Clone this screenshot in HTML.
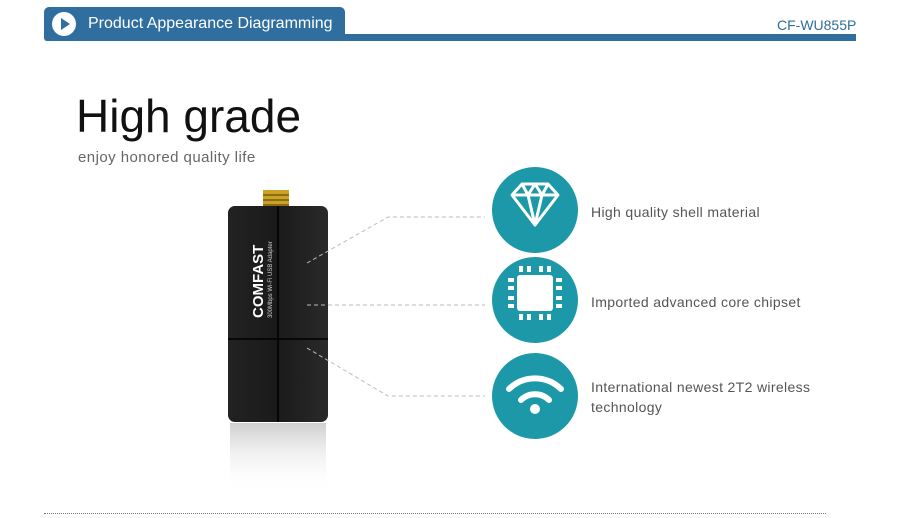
<!DOCTYPE html>
<html><head><meta charset="utf-8"><style>
*{margin:0;padding:0}
body{width:900px;height:518px;background:#fff;position:relative;overflow:hidden;font-family:"Liberation Sans",sans-serif}
.a{position:absolute}
.tab{left:44px;top:7px;width:301px;height:34px;background:#2f6e9e;border-radius:5px 5px 0 3px}
.bar{left:340px;top:34px;width:516px;height:7px;background:#2f6e9e}
.play{left:52px;top:12px;width:24px;height:24px;border-radius:50%;background:#fff}
.play:after{content:"";position:absolute;left:9px;top:6px;border-left:9px solid #2f6e9e;border-top:6px solid transparent;border-bottom:6px solid transparent}
.ttl{left:88px;top:15px;color:#fff;font-size:16px}
.cf{left:777px;top:17px;color:#2f6e9e;font-size:14px}
.hg{left:76px;top:89px;font-size:46px;color:#111}
.sub{left:78px;top:149px;font-size:15px;color:#666;letter-spacing:0.45px}
.c{width:86px;height:86px;border-radius:50%;background:#1d98a9;left:492px}
.t{left:591px;font-size:14px;color:#555;line-height:20px;letter-spacing:0.35px}
.dots{left:44px;top:513px;width:782px;border-top:1px dotted #777}
</style></head><body>
<div class="a tab"></div><div class="a bar"></div><div class="a play"></div>
<div class="a ttl">Product Appearance Diagramming</div>
<div class="a cf">CF-WU855P</div>
<div class="a hg">High grade</div>
<div class="a sub">enjoy honored quality life</div>
<svg class="a" style="left:0;top:0" width="900" height="518">
<defs><linearGradient id="r" x1="0" y1="0" x2="0" y2="1"><stop offset="0" stop-color="#bbb" stop-opacity=".7"/><stop offset="1" stop-color="#fff" stop-opacity="0"/></linearGradient>
<linearGradient id="b" x1="0" x2="1"><stop offset="0" stop-color="#222"/><stop offset=".5" stop-color="#1a1a1a"/><stop offset="1" stop-color="#2a2a2a"/></linearGradient></defs>
<rect x="263" y="190" width="26" height="20" fill="#c9a227"/>
<rect x="263" y="194" width="26" height="2" fill="#8a6e10"/><rect x="263" y="199" width="26" height="2" fill="#8a6e10"/><rect x="263" y="204" width="26" height="2" fill="#8a6e10"/>
<rect x="228" y="206" width="100" height="216" rx="7" fill="url(#b)"/>
<line x1="278" y1="206" x2="278" y2="422" stroke="#000" stroke-width="1.5"/>
<line x1="228" y1="339" x2="328" y2="339" stroke="#000" stroke-width="1.5"/>
<rect x="230" y="423" width="96" height="70" fill="url(#r)"/>
<text transform="translate(263,318) rotate(-90)" fill="#fff" font-size="15" font-weight="bold" font-family="Liberation Sans">COMFAST</text>
<text transform="translate(272,318) rotate(-90)" fill="#ccc" font-size="6" font-family="Liberation Sans">300Mbps Wi-Fi USB Adapter</text>
<g stroke="#bbb" stroke-dasharray="4,3" fill="none">
<polyline points="307,263 388,217 485,217"/>
<polyline points="307,305 485,305"/>
<polyline points="307,348 388,396 485,396"/>
</g>
</svg>
<div class="a c" style="top:167px"></div>
<div class="a c" style="top:257px"></div>
<div class="a c" style="top:353px"></div>
<svg class="a" style="left:492px;top:167px" width="86" height="280">
<g stroke="#fff" stroke-width="3" fill="none" stroke-linejoin="round">
<polygon points="20,28 30,17 56,17 66,28 43,58"/>
<path d="M20,28H66M30,17L36,28L43,58L50,28L56,17M36,28L43,17L50,28"/>
</g>
<rect x="25" y="108" width="36" height="36" rx="3" fill="#fff"/>
<g fill="#fff">
<rect x="27" y="99" width="4" height="6"/><rect x="35" y="99" width="4" height="6"/><rect x="47" y="99" width="4" height="6"/><rect x="55" y="99" width="4" height="6"/>
<rect x="27" y="147" width="4" height="6"/><rect x="35" y="147" width="4" height="6"/><rect x="47" y="147" width="4" height="6"/><rect x="55" y="147" width="4" height="6"/>
<rect x="16" y="111" width="6" height="4"/><rect x="16" y="119" width="6" height="4"/><rect x="16" y="129" width="6" height="4"/><rect x="16" y="137" width="6" height="4"/>
<rect x="64" y="111" width="6" height="4"/><rect x="64" y="119" width="6" height="4"/><rect x="64" y="129" width="6" height="4"/><rect x="64" y="137" width="6" height="4"/>
<circle cx="43" cy="242" r="5"/>
</g>
<g stroke="#fff" stroke-width="6" fill="none" stroke-linecap="round">
<path d="M17,222 A37,37 0 0 1 69,222"/>
<path d="M29,233 A20,20 0 0 1 57,233"/>
</g>
</svg>
<div class="a t" style="top:202px">High quality shell material</div>
<div class="a t" style="top:292px">Imported advanced core chipset</div>
<div class="a t" style="top:377px">International newest 2T2 wireless<br>technology</div>
<div class="a dots"></div>
</body></html>
